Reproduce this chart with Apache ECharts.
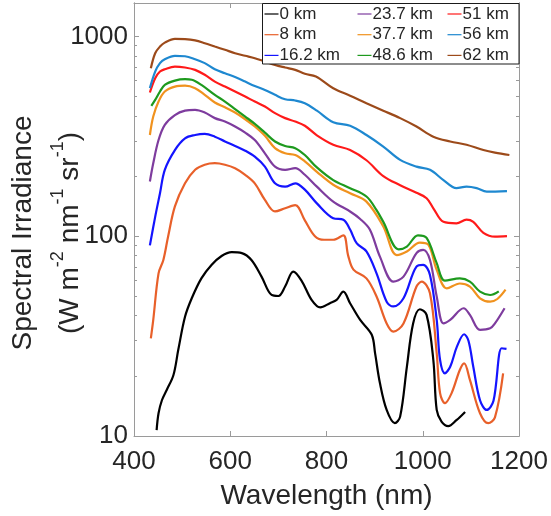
<!DOCTYPE html>
<html>
<head>
<meta charset="utf-8">
<script src="https://cdn.jsdelivr.net/npm/echarts@6/dist/echarts.min.js"></script>
<style>
html,body{margin:0;padding:0;background:#fff;}
#chart{width:551px;height:516px;}
</style>
</head>
<body>
<div id="chart"></div>
<script>
// ---- data: [wavelength nm, spectral irradiance] ----
const seriesNames = ['0 km','8 km','16.2 km','23.7 km','37.7 km','48.6 km','51 km','56 km','62 km'];
const seriesColors = ['#000000','#E8602A','#1414FF','#7E3C9E','#F0921E','#1E9A1E','#FF1A1A','#1E88D0','#9C4A1A'];

const km0 = [[447,10.7],[451,13],[458,15.1],[468,17],[482,20.2],[492,27],[506,39.5],[520,48.9],[540,61.5],[561,71.8],[582,79.6],[603,83.2],[624,82.3],[644,76],[665,62.8],[686,50.8],[700,50.2],[714,56],[731,66.5],[748,60],[769,48],[787,44],[807,46.2],[821,48],[835,52.8],[849,46.2],[870,38.1],[894,32.1],[901,25.9],[911,18.4],[925,13.5],[942,11.6],[953,12.5],[967,22.2],[980,36.6],[994,43.1],[1008,40.4],[1022,24],[1029,13.5],[1039,11.8],[1053,11.2],[1070,12],[1088,13.2]];
const km8 = [[435,30.8],[440,38.1],[451,65.2],[461,76],[471,100],[485,141],[506,184],[527,215],[547,228],[568,232],[589,228],[610,219],[631,203],[651,184],[672,152],[693,133],[714,138],[735,143],[755,120],[776,100],[795,96],[814,96],[835,101],[845,80],[856,68],[883,61.5],[904,49.9],[925,36.6],[939,33.3],[960,36.6],[987,56],[998,59.3],[1015,51.8],[1029,25.9],[1036,16.4],[1046,14.6],[1060,16.4],[1077,21.4],[1086,23.1],[1098,19.1],[1119,13],[1136,11.6],[1150,12.4],[1167,20.6]];
const km16 = [[433,90],[444,125],[454,164],[464,215],[485,270],[506,309],[527,321],[547,325],[568,315],[589,298],[610,283],[631,268],[651,250],[672,223],[693,184],[714,177],[735,184],[755,171],[780,146],[814,123],[835,121],[849,108],[863,92],[883,84],[904,65.2],[925,47],[939,44.5],[960,48.9],[987,70.5],[1001,71.8],[1015,64],[1029,38.1],[1036,24],[1046,20.6],[1057,22.2],[1071,28],[1086,32.3],[1095,30],[1105,22.2],[1119,15.1],[1133,13.5],[1147,15],[1164,27.5],[1174,27.3]];
const km23 = [[433,188],[440,232],[451,303],[464,361],[485,404],[506,425],[527,429],[547,416],[568,390],[589,375],[610,354],[631,330],[651,303],[672,260],[693,223],[714,215],[735,219],[755,203],[780,177],[814,149],[849,133],[870,122],[890,108],[911,79],[939,59.3],[960,62.8],[987,82.3],[1001,85.4],[1015,76],[1029,49.9],[1043,36.6],[1057,38.1],[1085,43.6],[1098,40.4],[1119,34],[1140,34.6],[1150,36.6],[1170,43.6]];
const km37 = [[433,321],[440,397],[451,472],[464,530],[485,561],[506,567],[527,551],[547,510],[568,467],[589,442],[610,416],[631,385],[651,354],[672,318],[693,276],[714,260],[735,255],[755,237],[780,210],[814,181],[849,164],[883,149],[918,112],[946,80.5],[967,83.8],[994,92.9],[1012,90.4],[1029,67.8],[1050,54.8],[1077,58],[1098,56],[1119,48.9],[1140,47],[1155,48.5],[1172,54]];
const km48 = [[436,449],[444,481],[454,530],[464,572],[485,601],[506,611],[520,607],[540,572],[568,510],[589,472],[610,433],[631,397],[651,365],[672,330],[693,298],[714,283],[735,276],[755,255],[780,221],[814,191],[849,174],[883,158],[904,135],[918,118],[950,86],[967,88.8],[990,101],[1008,98],[1029,73.3],[1046,60],[1077,61.5],[1098,59.3],[1119,52.8],[1140,50.8],[1158,53]];
const km51 = [[433,524],[444,618],[454,667],[464,685],[485,706],[506,699],[527,680],[547,643],[568,594],[589,561],[610,530],[631,500],[651,472],[672,446],[693,413],[714,390],[735,375],[755,357],[780,320],[814,287],[849,270],[883,240],[918,200],[953,180],[987,165],[1008,155],[1022,138],[1043,118],[1070,116],[1091,121],[1105,118],[1126,104],[1150,99.5],[1175,100]];
const km56 = [[433,551],[444,667],[454,735],[464,769],[485,800],[506,796],[527,769],[547,735],[568,685],[589,654],[610,626],[631,594],[651,565],[672,540],[693,510],[714,485],[735,478],[755,463],[780,425],[814,372],[849,357],[883,321],[918,281],[953,241],[987,223],[1015,215],[1043,191],[1070,174],[1091,177],[1112,174],[1133,167],[1175,168]];
const km62 = [[435,693],[444,824],[454,890],[464,931],[485,973],[506,970],[527,955],[547,925],[568,890],[589,857],[610,824],[631,800],[651,778],[672,749],[693,720],[714,699],[735,680],[755,650],[778,630],[814,550],[849,505],[883,463],[918,425],[953,390],[987,354],[1022,315],[1057,298],[1091,287],[1126,270],[1150,262],[1180,255]];
const seriesData = [km0, km8, km16, km23, km37, km48, km51, km56, km62];

const xTicks = [400, 600, 800, 1000, 1200];
const yMajor = [10, 100, 1000];
const yMinor = [20,30,40,50,60,70,80,90,200,300,400,500,600,700,800,900];

const FONT = 'Liberation Sans, Arial, Helvetica, sans-serif';
const TXT = '#262626';
const AX = '#9a9a9a';

const chart = echarts.init(document.getElementById('chart'), null, {renderer: 'canvas'});

function yAxisDef(pos, ticks, len, showLabel) {
  return {
    type: 'log', logBase: 10, min: 10, max: 1470, position: pos,
    axisLine: {show: true, lineStyle: {color: AX, width: 1}},
    axisTick: {show: true, inside: true, length: len, customValues: ticks, lineStyle: {color: AX}},
    axisLabel: {show: !!showLabel, customValues: yMajor, margin: 6, fontSize: 26, fontFamily: FONT, color: TXT,
      formatter: v => (yMajor.indexOf(Math.round(v)) >= 0 ? String(Math.round(v)) : '')},
    splitLine: {show: false}, minorTick: {show: false}
  };
}

const option = {
  animation: false,
  backgroundColor: '#fff',
  grid: {left: 134, right: 32, top: 3, bottom: 80, containLabel: false},
  xAxis: [
    {type: 'value', min: 400, max: 1200, interval: 200, position: 'bottom',
     axisLine: {lineStyle: {color: AX}}, axisTick: {inside: true, length: 5, lineStyle: {color: AX}},
     axisLabel: {margin: 13, fontSize: 26, fontFamily: FONT, color: TXT,
       customValues: xTicks, formatter: v => String(v)}, splitLine: {show: false}},
    {type: 'value', min: 400, max: 1200, interval: 200, position: 'top',
     axisLine: {lineStyle: {color: AX}}, axisTick: {inside: true, length: 5, lineStyle: {color: AX}},
     axisLabel: {show: false}, splitLine: {show: false}}
  ],
  yAxis: [
    yAxisDef('left', yMajor, 5, true),
    yAxisDef('left', yMinor, 3, false),
    yAxisDef('right', yMajor, 5, false),
    yAxisDef('right', yMinor, 3, false)
  ],
  legend: [0, 1, 2].map(c => ({
    data: seriesNames.slice(c * 3, c * 3 + 3),
    orient: 'vertical',
    left: [264.5, 357.5, 447.5][c],
    top: 5.5,
    padding: 0,
    itemWidth: 14, itemHeight: 10, itemGap: 3.7,
    icon: 'path://M0,4.4 L14,4.4 L14,5.6 L0,5.6 Z',
    selectedMode: false,
    textStyle: {fontSize: 17, lineHeight: 17, fontFamily: FONT, color: TXT, padding: [0, 0, 0, -4]}
  })),
  graphic: [
    {type: 'rect', z: 3, shape: {x: 262.5, y: 3.5, width: 256.5, height: 60.5},
     style: {fill: '#fff', stroke: '#1a1a1a', lineWidth: 1}},
    {type: 'text', z: 5, x: 23.3, y: 233, rotation: Math.PI / 2,
     style: {text: 'Spectral Irradiance', font: '28px ' + FONT, fill: TXT, align: 'center', verticalAlign: 'middle'}},
    {type: 'text', z: 5, x: 66.3, y: 233, rotation: Math.PI / 2,
     style: {text: '{n|(W m}{s|-2}{n| nm}{s|-1}{n| sr}{s|-1}{n|)}', fill: TXT, align: 'center', verticalAlign: 'middle',
       rich: {n: {fontSize: 28, lineHeight: 35, fontFamily: FONT, fill: TXT, verticalAlign: 'bottom'},
              s: {fontSize: 18, lineHeight: 18, fontFamily: FONT, fill: TXT, verticalAlign: 'top'}}}},
    {type: 'text', z: 5, x: 326.5, y: 496,
     style: {text: 'Wavelength (nm)', font: '28px ' + FONT, fill: TXT, align: 'center', verticalAlign: 'middle'}}
  ],
  series: seriesData.map((d, i) => ({
    name: seriesNames[i], type: 'line', data: d, xAxisIndex: 0, yAxisIndex: 0,
    showSymbol: false, symbol: 'none', smooth: 0.35, z: 2,
    lineStyle: {color: seriesColors[i], width: 2.2}, itemStyle: {color: seriesColors[i]}
  }))
};
chart.setOption(option);
</script>
</body>
</html>
